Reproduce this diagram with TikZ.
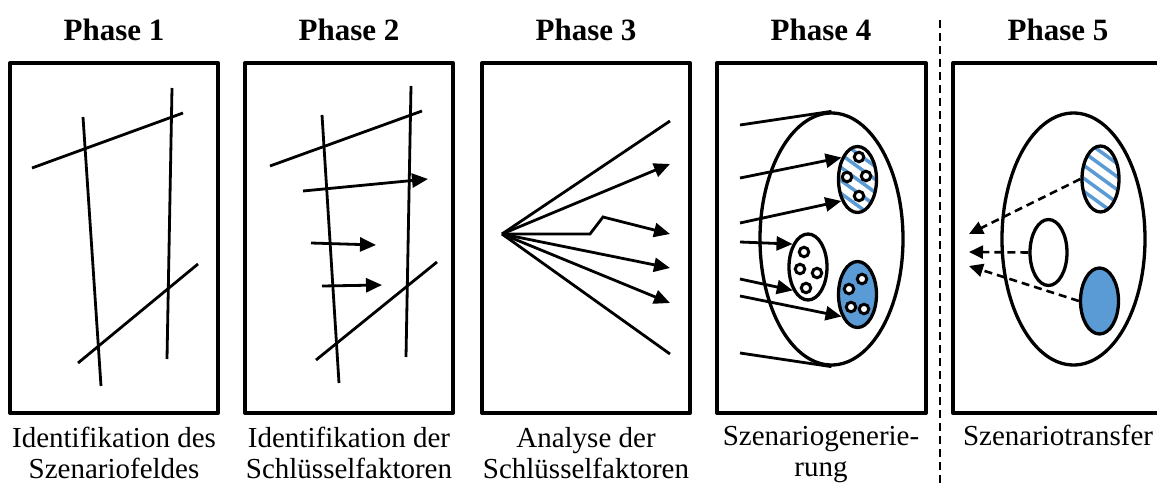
\documentclass[tikz,border=0pt]{standalone}
\usepackage{fontspec}
\setmainfont{Liberation Serif}
\usetikzlibrary{arrows.meta,shapes.geometric}
\definecolor{myblue}{HTML}{5B9BD5}
\begin{document}
\begin{tikzpicture}[x=1pt,y=-1pt,
  boxframe/.style={draw, line width=4pt, line join=round},
  ln/.style={line width=2.8pt},
  arr/.style={line width=2.8pt, -{Triangle[length=16pt,width=14pt]}},
  darr/.style={line width=2.6pt, dash pattern=on 8pt off 5pt, -{Triangle[length=14pt,width=13pt]}},
  phtitle/.style={font=\fontsize{31}{33}\selectfont\bfseries, anchor=base, inner sep=0pt},
  captext/.style={font=\fontsize{29}{31}\selectfont, anchor=base, align=center, inner sep=0pt},
  bigell/.style={ellipse, draw, line width=3.3pt, fill=white, inner sep=0pt, minimum width=143pt, minimum height=252pt},
  smell/.style={ellipse, draw, line width=3.3pt, inner sep=0pt, minimum width=38pt, minimum height=66pt},
  smalldot/.style={circle, draw, line width=3pt, fill=white, inner sep=0pt, minimum size=9.5pt},
  stripe/.style={myblue, line width=3.5pt}
]
\useasboundingbox (0,0) rectangle (1157,484);

% titles
\node[phtitle] (t1) at (114,41) {Phase 1};
\node[phtitle] (t2) at (349,41) {Phase 2};
\node[phtitle] (t3) at (586,41) {Phase 3};
\node[phtitle] (t4) at (821,41) {Phase 4};
\node[phtitle] (t5) at (1058,41) {Phase 5};

% frames
\draw[boxframe] (10,63) rectangle (218,413);
\draw[boxframe] (245,63) rectangle (453,413);
\draw[boxframe] (482,63) rectangle (690,413);
\draw[boxframe] (717,63) rectangle (926,413);
\draw[boxframe] (953,63) rectangle (1162,413);

% separator
\coordinate (sepTop) at (940,20);
\coordinate (sepBot) at (940,484);
\draw[line width=2.2pt, dash pattern=on 8pt off 5pt] (sepTop) -- (sepBot);

% captions (base anchor = last line's baseline)
\node[captext] (c1) at (114,478) {Identifikation des\\Szenariofeldes};
\node[captext] (c2) at (349,478) {Identifikation der\\Schlüsselfaktoren};
\node[captext] (c3) at (586,478) {Analyse der\\Schlüsselfaktoren};
\node[captext] (c4) at (821,476) {Szenariogenerie-\\rung};
\node[captext] (c5) at (1058,445) {Szenariotransfer};

% ---------- Phase 1
\draw[ln] (83,117) -- (101,386);
\draw[ln] (172,88) -- (167,359);
\draw[ln] (32,168) -- (183,113);
\draw[ln] (78,363) -- (198,264);

% ---------- Phase 2
\draw[ln] (322,115) -- (339,383);
\draw[ln] (411,86) -- (406,357);
\draw[ln] (270,166) -- (422,111);
\draw[ln] (316,360) -- (437,262);
\draw[arr] (303,191) -- (428,179);
\draw[arr] (311,243) -- (376,245);
\draw[arr] (322,286) -- (382,285);

% ---------- Phase 3
\coordinate (O3) at (502,234);
\draw[ln] (O3) -- (670,121);
\draw[arr] (O3) -- (670,164);
\draw[arr, line join=miter] (O3) -- (590,234) -- (603,217) -- (670,234);
\draw[arr] (O3) -- (670,268);
\draw[arr] (O3) -- (670,303);
\draw[ln] (O3) -- (670,354);

% ---------- Phase 4
\node[bigell] (E4) at (831.5,239) {};
\begin{scope}
  \clip (857.5,179.5) ellipse [x radius=19pt, y radius=33pt];
  \foreach \d in {-65,-52,...,65} {
    \draw[stripe] (830,179.5+\d-20) -- (885,179.5+\d+20);
  }
\end{scope}
\node[smell] (S4) at (857.5,179.5) {};
\node[smell] (M4) at (808,267) {};
\node[smell, fill=myblue] (B4) at (857.5,294.5) {};

\node[smalldot] at (859,157) {};
\node[smalldot] at (847,177) {};
\node[smalldot] at (866,176) {};
\node[smalldot] at (859,196) {};

\node[smalldot] at (804,252) {};
\node[smalldot] at (800,269) {};
\node[smalldot] at (817,273) {};
\node[smalldot] at (806,288) {};

\node[smalldot] at (862,279) {};
\node[smalldot] at (849,289) {};
\node[smalldot] at (851,307) {};
\node[smalldot] at (864,309) {};

\draw[ln] (740,125) -- (E4.north);
\draw[arr] (740,178) -- (S4.126);
\draw[arr] (740,223) -- (S4.233);
\draw[arr] (740,242) -- (M4.124);
\draw[arr] (740,279) -- (M4.237);
\draw[arr] (740,296) -- (B4.234);
\draw[ln] (740,353) -- (E4.south);

% ---------- Phase 5
\node[bigell] (E5) at (1073.5,239) {};
\begin{scope}
  \clip (1100.5,179) ellipse [x radius=18pt, y radius=32.5pt];
  \foreach \d in {-65,-52,...,65} {
    \draw[stripe] (1075,179+\d-20) -- (1130,179+\d+20);
  }
\end{scope}
\node[smell, minimum width=37pt] (S5) at (1100.5,179) {};
\node[smell, minimum width=37pt, fill=white] (W5) at (1048.5,252.5) {};
\node[smell, minimum width=38pt, fill=myblue] (B5) at (1099.5,301) {};

\coordinate (p1) at (969,234);
\coordinate (p2) at (969,252);
\coordinate (p3) at (969,266);
\draw[darr] (S5.west) -- (p1);
\draw[darr] (W5.west) -- (p2);
\draw[darr] (B5.west) -- (p3);
\end{tikzpicture}
\end{document}
